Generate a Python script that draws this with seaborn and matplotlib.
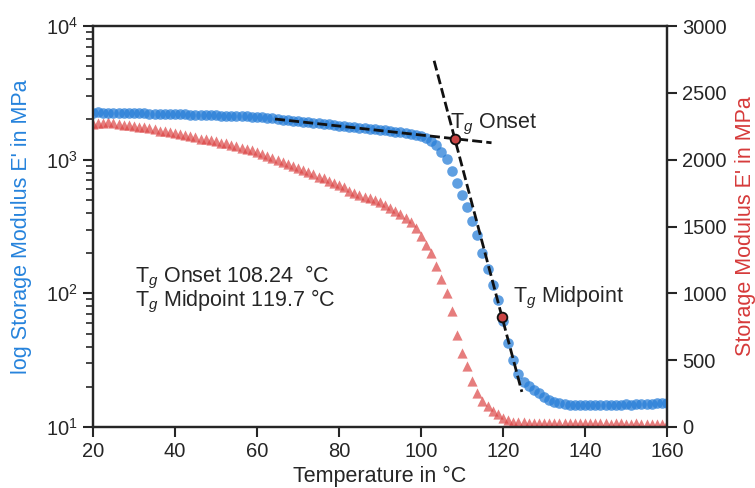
import matplotlib
matplotlib.use("Agg")
import matplotlib.pyplot as plt
import numpy as np
import pandas as pd
import seaborn as sns
from matplotlib.ticker import LogLocator, MultipleLocator, NullFormatter

# ---------------- data ----------------
temperature = [20, 21.25, 22.5, 23.75, 25, 26.25, 27.5, 28.75, 30, 31.25, 32.5, 33.75,
               35, 36.25, 37.5, 38.75, 40, 41.25, 42.5, 43.75, 45, 46.25, 47.5, 48.75,
               50, 51.25, 52.5, 53.75, 55, 56.25, 57.5, 58.75, 60, 61.25, 62.5, 63.75,
               65, 66.25, 67.5, 68.75, 70, 71.25, 72.5, 73.75, 75, 76.25, 77.5, 78.75,
               80, 81.25, 82.5, 83.75, 85, 86.25, 87.5, 88.75, 90, 91.25, 92.5, 93.75,
               95, 96.25, 97.5, 98.75, 100, 101.25, 102.5, 103.75, 105, 106.25, 107.5,
               108.75, 110, 111.25, 112.5, 113.75, 115, 116.25, 117.5, 118.75, 120,
               121.25, 122.5, 123.75, 125, 126.25, 127.5, 128.75, 130, 131.25, 132.5,
               133.75, 135, 136.25, 137.5, 138.75, 140, 141.25, 142.5, 143.75, 145,
               146.25, 147.5, 148.75, 150, 151.25, 152.5, 153.75, 155, 156.25, 157.5,
               158.75, 160]

# storage modulus shown on the log axis (blue circles), MPa
log_axis_modulus = [2252, 2256, 2248, 2246, 2240, 2244, 2237, 2232, 2228, 2224, 2220, 2213,
                    2209, 2205, 2198, 2194, 2190, 2183, 2179, 2172, 2164, 2161, 2153, 2150,
                    2142, 2139, 2131, 2124, 2120, 2113, 2106, 2098, 2091,
                    2073, 2055, 2037, 2016, 1996, 1979, 1959, 1939, 1922, 1906, 1890, 1869,
                    1850, 1834, 1816, 1800, 1782, 1764, 1748, 1730, 1715, 1700, 1686, 1672,
                    1654, 1640, 1623, 1609, 1590, 1568, 1542, 1502,
                    1440, 1369, 1278, 1151, 1011, 816, 670, 545, 440, 345, 272, 200, 152,
                    115, 89, 62, 42.5, 31.6, 25.1, 21.8, 20.1, 18.8, 17.9, 16.7, 16.0, 15.4,
                    15.0, 14.8,
                    14.6, 14.5, 14.6, 14.5, 14.5, 14.6, 14.5, 14.6, 14.7, 14.6, 14.7, 14.8,
                    14.7, 14.8, 14.9, 14.8, 14.9, 15.0, 15.1, 15.0]

# storage modulus shown on the linear axis (red triangles), MPa
linear_axis_modulus = [2267, 2274, 2278, 2282, 2271, 2267, 2263, 2256, 2252, 2248, 2241, 2237,
                       2226, 2218, 2214, 2207, 2199, 2192, 2184, 2177, 2166, 2158, 2155, 2147,
                       2140, 2128, 2121, 2113, 2102, 2091, 2080, 2069, 2054,
                       2042, 2031, 2016, 2001, 1986, 1971, 1956, 1938, 1923, 1908, 1893, 1874,
                       1863, 1844, 1829, 1810, 1795, 1766, 1754, 1739, 1724, 1713, 1698, 1683,
                       1661, 1638, 1616, 1590, 1560, 1530, 1489, 1429,
                       1362, 1302, 1204, 1107, 1002, 868, 688, 554, 457, 344, 254, 194, 157,
                       123, 97, 67, 52, 41, 37, 34,
                       32, 31, 30, 30, 29, 29, 28, 29, 28, 28, 27, 28, 27, 27, 28, 27, 26, 27,
                       27, 26, 26, 27, 26, 26, 25, 26, 26, 25]

onset_T, onset_E = 108.24, 1435
mid_T, mid_E = 119.7, 67
tangent1_T = [64.4, 117.2]
tangent1_E = [2014, 1338]
tangent2_T = [103.2, 124.6]
tangent2_E = [5495, 18.3]

xticks = [20, 40, 60, 80, 100, 120, 140, 160]
right_ticks = [0, 500, 1000, 1500, 2000, 2500, 3000]

# ---------------- style ----------------
sns.set_theme(style="ticks")
plt.rcParams['font.family'] = ['Liberation Sans', 'DejaVu Sans']
plt.rcParams['mathtext.fontset'] = 'custom'
plt.rcParams['mathtext.rm'] = 'Liberation Sans'
plt.rcParams['mathtext.it'] = 'Liberation Sans:italic'
plt.rcParams['mathtext.bf'] = 'Liberation Sans:bold'

BLUE = '#2a7fd8'
RED = '#dc4646'
BLUE_LABEL = '#2683dc'
RED_LABEL = '#d63a3a'
TXT = '#262626'
FS = 15.5
TFS = 14.5

df = pd.DataFrame({'T': temperature, 'E_log': log_axis_modulus, 'E_lin': linear_axis_modulus})

fig = plt.figure(figsize=(7.55, 4.88), dpi=100)
ax = fig.add_axes([93 / 755, 1 - 427 / 488, 574 / 755, 401 / 488])
ax2 = ax.twinx()
ax.set_zorder(ax2.get_zorder() + 1)
ax.patch.set_visible(False)

ax.set_yscale('log')
sns.scatterplot(data=df, x='T', y='E_lin', ax=ax2, marker='^', color=RED, s=54,
                alpha=0.7, linewidth=0, legend=False)
sns.scatterplot(data=df, x='T', y='E_log', ax=ax, marker='o', color=BLUE, s=58,
                alpha=0.75, linewidth=0, legend=False)

dash = (0, (3.6, 1.5))
ax.plot(tangent1_T, tangent1_E, color='#111111', lw=2, linestyle=dash, zorder=5)
ax.plot(tangent2_T, tangent2_E, color='#111111', lw=2, linestyle=dash, zorder=5)
ax.plot([onset_T, mid_T], [onset_E, mid_E], linestyle='none', marker='o', ms=7,
        mfc='#c94444', mec='#111111', mew=1.3, zorder=6)

ax.text(107.1, 1850, r'T$_g$ Onset', fontsize=FS, color=TXT, va='center', ha='left', zorder=7)
ax.text(122.5, 92, r'T$_g$ Midpoint', fontsize=FS, color=TXT, va='center', ha='left', zorder=7)
ax.text(0.073, 0.374, r'T$_g$ Onset 108.24  °C', transform=ax.transAxes, fontsize=FS,
        color=TXT, va='center', ha='left')
ax.text(0.073, 0.312, r'T$_g$ Midpoint 119.7 °C', transform=ax.transAxes, fontsize=FS,
        color=TXT, va='center', ha='left')

ax.set_xlim(20, 160)
ax.set_xticks(xticks)
ax.set_ylim(10, 1e4)
ax.yaxis.set_major_locator(LogLocator(base=10, numticks=10))
ax.yaxis.set_minor_locator(LogLocator(base=10, subs=np.arange(2, 10), numticks=20))
ax.yaxis.set_minor_formatter(NullFormatter())
ax2.set_ylim(0, 3000)
ax2.set_yticks(right_ticks)

ax.set_xlabel('Temperature in °C', fontsize=FS, color=TXT)
ax.set_ylabel("log Storage Modulus E' in MPa", fontsize=FS, color=BLUE_LABEL)
ax2.set_ylabel("Storage Modulus E' in MPa", fontsize=FS, color=RED_LABEL)
ax.yaxis.set_label_coords(-0.106, 0.5)
ax2.yaxis.set_label_coords(1.118, 0.5)
ax.xaxis.set_label_coords(0.5, -0.096)

for a in (ax, ax2):
    a.tick_params(axis='both', which='major', length=7, width=1.5, labelsize=TFS,
                  colors=TXT, direction='out', pad=4)
    a.tick_params(axis='y', which='minor', length=5, width=1.2, colors=TXT, direction='out')
    for s in a.spines.values():
        s.set_linewidth(1.6)
        s.set_color(TXT)
ax2.tick_params(axis='y', which='minor', right=False)

fig.savefig('out.png', dpi=100)
